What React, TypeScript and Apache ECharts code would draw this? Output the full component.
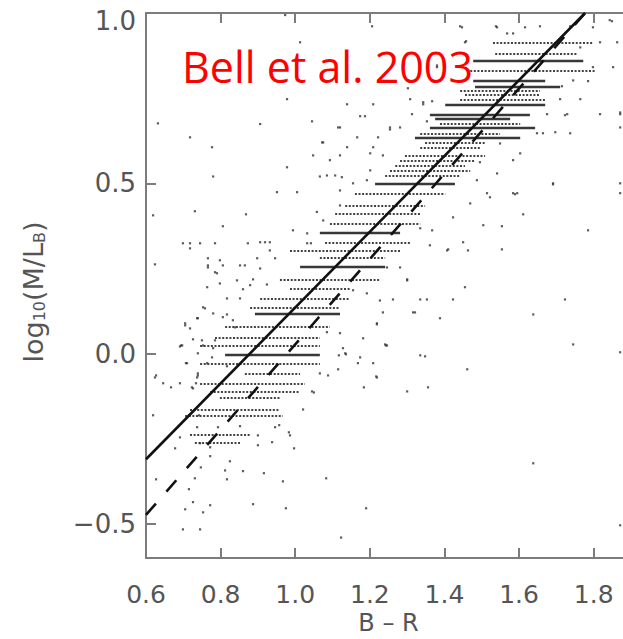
import React, { useEffect, useRef } from "react";
import * as echarts from "echarts";

// Axis tick positions
const xTicks = [0.6, 0.8, 1.0, 1.2, 1.4, 1.6, 1.8];
const yTicks = [-0.5, 0.0, 0.5, 1.0];

// Colour–M/L relations, evaluated at the two ends of the drawn range
const fitColour = [0.6, 1.777];
const solidFitML = [-0.31, 1.0];
const dashedFitML = [-1.224 + 1.251 * 0.6, 1.0];

// Model-grid rows: [log10(M/L_B), B-R start, B-R end]
const denseRows: number[][] = [
  [0.859, 1.477, 1.772],
  [0.801, 1.477, 1.67],
  [0.783, 1.482, 1.71],
  [0.73, 1.402, 1.67],
  [0.7, 1.361, 1.629],
  [0.689, 1.375, 1.576],
  [0.663, 1.361, 1.643],
  [0.633, 1.321, 1.603],
  [0.498, 1.214, 1.428],
  [0.354, 1.066, 1.281],
  [0.255, 1.013, 1.241],
  [0.117, 0.892, 1.12],
  [-0.004, 0.812, 1.066],
];

const looseRows: number[][] = [
  [0.912, 1.53, 1.798],
  [0.88, 1.536, 1.758],
  [0.83, 1.469, 1.804],
  [0.771, 1.442, 1.656],
  [0.759, 1.455, 1.656],
  [0.745, 1.442, 1.67],
  [0.674, 1.388, 1.603],
  [0.645, 1.335, 1.549],
  [0.618, 1.348, 1.509],
  [0.604, 1.335, 1.495],
  [0.58, 1.294, 1.509],
  [0.566, 1.281, 1.482],
  [0.551, 1.268, 1.455],
  [0.536, 1.254, 1.469],
  [0.521, 1.241, 1.442],
  [0.469, 1.16, 1.402],
  [0.434, 1.134, 1.348],
  [0.41, 1.107, 1.335],
  [0.381, 1.093, 1.335],
  [0.325, 1.08, 1.308],
  [0.301, 0.986, 1.281],
  [0.281, 1.066, 1.241],
  [0.216, 0.959, 1.227],
  [0.19, 0.986, 1.147],
  [0.161, 0.906, 1.147],
  [0.134, 0.879, 1.12],
  [0.078, 0.812, 1.093],
  [0.046, 0.785, 1.066],
  [0.023, 0.745, 1.066],
  [-0.03, 0.745, 1.066],
  [-0.06, 0.865, 1.013],
  [-0.089, 0.745, 1.026],
  [-0.112, 0.772, 1.013],
  [-0.13, 0.798, 0.959],
  [-0.165, 0.718, 0.959],
  [-0.183, 0.705, 0.967],
  [-0.239, 0.718, 0.879],
  [-0.262, 0.731, 0.852],
];

// Individual galaxies: [B-R, log10(M/L_B)]
const galaxies: number[][] = [
  [0.973, 0.994], [1.206, 0.961], [1.442, 0.961], [1.538, 0.961], [1.656, 0.961],
  [1.737, 0.961], [1.843, 0.979], [1.568, 0.94], [1.584, 0.94], [1.013, 0.914],
  [1.455, 0.914], [1.817, 0.914], [1.863, 0.914], [1.38, 0.846], [1.463, 0.832],
  [1.745, 0.802], [0.978, 0.747], [1.139, 0.732], [1.209, 0.732], [1.308, 0.747],
  [1.343, 0.732], [1.71, 0.747], [1.764, 0.747], [1.174, 0.697], [1.729, 0.703],
  [1.817, 0.703], [1.871, 0.703], [0.632, 0.676], [0.906, 0.674], [1.045, 0.682],
  [1.12, 0.664], [1.254, 0.664], [0.718, 0.635], [0.777, 0.606], [1.072, 0.62],
  [1.139, 0.606], [1.209, 0.606], [1.697, 0.65], [1.737, 0.647], [1.871, 0.664],
  [1.664, 0.647], [1.048, 0.582], [1.12, 0.582], [0.978, 0.547], [0.78, 0.52],
  [1.066, 0.52], [1.005, 0.474], [0.951, 0.474], [1.691, 0.5], [1.871, 0.5],
  [1.584, 0.471],
  [0.619, 0.406], [0.731, 0.418], [0.868, 0.409], [0.806, 0.374], [0.699, 0.324],
  [0.718, 0.324], [0.745, 0.324], [0.785, 0.324], [0.718, 0.309], [0.766, 0.28],
  [0.798, 0.274], [0.624, 0.262], [0.873, 0.324], [0.932, 0.303], [0.766, 0.253],
  [0.785, 0.239], [0.865, 0.259], [0.844, 0.215], [0.887, 0.218], [0.764, 0.195],
  [0.924, 0.203], [0.817, 0.162], [0.852, 0.162], [0.753, 0.136], [0.737, 0.104],
  [0.705, 0.083], [0.806, 0.107], [0.691, 0.021], [0.726, 0.042], [0.71, -0.028],
  [0.764, -0.028], [0.739, 0.001], [0.624, -0.07], [0.737, -0.07], [0.817, -0.037],
  [1.554, 0.374], [1.611, 0.409], [1.589, 0.468], [1.691, 0.497], [1.785, 0.362],
  [1.463, 0.303], [1.554, 0.306], [1.41, 0.306], [1.367, 0.362], [1.335, 0.368],
  [1.455, 0.195], [1.3, 0.218], [1.262, 0.159], [1.353, 0.159], [1.423, 0.159],
  [1.723, 0.159], [1.388, 0.104], [1.321, 0.121], [1.638, 0.115], [1.219, 0.086],
  [1.241, 0.027], [1.348, -0.008], [1.745, 0.027], [1.461, -0.046], [1.174, -0.011],
  [1.134, 0.001], [1.115, -0.046], [1.219, -0.07], [1.871, 0.004], [1.871, 0.471],
  [0.627, -0.064], [0.646, -0.087], [0.691, -0.087], [0.723, -0.099], [0.739, -0.064],
  [0.619, -0.181], [0.691, -0.246], [0.678, -0.278], [0.745, -0.263], [0.737, -0.216],
  [0.772, -0.275], [0.772, -0.301], [0.747, -0.334], [0.825, -0.316], [0.812, -0.343],
  [0.86, -0.345], [0.916, -0.351], [0.731, -0.366], [0.817, -0.369], [0.627, -0.369],
  [0.715, -0.398], [0.726, -0.436], [0.772, -0.445], [0.705, -0.457], [0.753, -0.466],
  [0.887, -0.442], [0.975, -0.454], [0.699, -0.516], [0.745, -0.516], [1.123, -0.54],
  [1.638, -0.322], [1.19, -0.454], [1.083, -0.366], [0.967, -0.375], [0.9, -0.269],
  [0.938, -0.26], [0.997, -0.278], [0.986, -0.24], [0.946, -0.216], [0.9, -0.24],
  [0.852, -0.213], [0.793, -0.216], [1.021, -0.164], [1.045, -0.111], [1.066, -0.058],
  [1.184, -0.099], [1.217, -0.067], [1.3, -0.111], [1.356, -0.099], [1.871, -0.504],
  [1.447, 0.958], [1.541, 0.958], [1.616, 0.958], [1.798, 0.958], [1.849, 0.976],
  [1.458, 0.917], [1.764, 0.899], [1.798, 0.841], [1.852, 0.841], [1.785, 0.8],
  [1.871, 0.708], [1.715, 0.785], [1.38, 0.841], [1.302, 0.802], [1.302, 0.779],
  [1.343, 0.738], [1.367, 0.741], [1.313, 0.703], [1.353, 0.682], [1.675, 0.703],
  [1.187, 0.697], [1.115, 0.664], [1.075, 0.62], [1.166, 0.635], [1.222, 0.635],
  [1.281, 0.664], [1.254, 0.658], [1.201, 0.588], [1.235, 0.582], [1.093, 0.568],
  [1.107, 0.523], [1.085, 0.523], [1.125, 0.518], [1.155, 0.5], [1.12, 0.479],
  [1.192, 0.509], [1.201, 0.538], [1.723, 0.7], [1.648, 0.647], [1.603, 0.588],
  [1.584, 0.568], [1.541, 0.529], [1.487, 0.509], [1.514, 0.471], [1.595, 0.471],
  [1.495, 0.562], [1.549, 0.617],
  [1.032, 0.353], [1.075, 0.391], [1.12, 0.435], [1.058, 0.416], [0.994, 0.362],
  [0.906, 0.327], [0.919, 0.327], [0.932, 0.327], [1.032, 0.324], [1.042, 0.324],
  [0.898, 0.28], [0.946, 0.28], [0.906, 0.25], [1.469, 0.441], [1.522, 0.459],
  [1.423, 0.4], [1.504, 0.377], [1.45, 0.327], [1.407, 0.303], [1.361, 0.318],
  [0.766, 0.259], [0.806, 0.259], [0.852, 0.259], [0.79, 0.236], [0.798, 0.206],
  [0.879, 0.201], [0.758, 0.133], [0.78, 0.118], [0.817, 0.115], [0.86, 0.189],
  [0.705, 0.089], [0.739, 0.104], [0.718, 0.074], [0.833, 0.098], [0.839, 0.077],
  [0.75, 0.039], [0.785, 0.039], [0.78, 0.016], [0.777, -0.011], [0.697, 0.024],
  [1.246, 0.253], [1.281, 0.253], [1.3, 0.215], [1.192, 0.177], [1.155, 0.186],
  [1.227, 0.156], [1.335, 0.159], [1.235, 0.121], [1.316, 0.121], [1.219, 0.089],
  [1.085, 0.063], [1.12, 0.06], [1.182, 0.045], [1.246, 0.024], [1.335, -0.005],
  [1.128, 0.016],
  [0.694, 0.024], [0.753, 0.024], [0.667, -0.099], [0.707, -0.028], [0.739, -0.058],
  [0.734, -0.087], [0.726, -0.102], [0.715, -0.181], [0.742, -0.181], [1.05, -0.114],
  [1.088, -0.064], [1.117, -0.005], [1.136, -0.002], [1.243, 0.024], [1.168, -0.028],
  [1.209, -0.028], [0.983, -0.231], [0.957, -0.21],
];

const AXIS_GREY = "#7c7c7c";
const TEXT_GREY = "#555555";
const FONT = "DejaVu Sans";

function rowsToSegments(rows: number[][]) {
  return rows.map(([ml, c0, c1]) => ({ coords: [[c0, ml], [c1, ml]] }));
}

const fmt = (v: number) => v.toFixed(1).replace("-", "\u2212");

export default function App() {
  const ref = useRef<HTMLDivElement>(null);

  useEffect(() => {
    if (!ref.current) return;
    const chart = echarts.init(ref.current, undefined, { renderer: "svg" });

    const axisLine = { show: true, onZero: false, lineStyle: { color: AXIS_GREY, width: 2 } };
    const axisTick = {
      show: true,
      inside: true,
      length: 10,
      lineStyle: { color: AXIS_GREY, width: 2 },
    };
    const labelText = { fontSize: 26, color: TEXT_GREY, fontFamily: FONT };

    chart.setOption({
      animation: false,
      backgroundColor: "#ffffff",
      grid: {
        left: 146,
        top: 13,
        width: 485,
        height: 545,
        containLabel: false,
        outerBoundsMode: "none",
      },
      xAxis: [
        {
          type: "value",
          min: 0.6,
          max: 1.9,
          position: "bottom",
          axisLine,
          axisTick: { ...axisTick, customValues: xTicks },
          splitLine: { show: false },
          axisLabel: {
            customValues: xTicks,
            formatter: fmt,
            margin: 24,
            ...labelText,
            fontSize: 25,
            lineHeight: 25,
          },
          name: "B \u2013 R",
          nameLocation: "middle",
          nameGap: 53,
          nameMoveOverlap: false,
          nameTextStyle: { ...labelText, fontSize: 24, lineHeight: 24 },
        },
        {
          type: "value",
          min: 0.6,
          max: 1.9,
          position: "top",
          axisLine,
          axisTick: { ...axisTick, customValues: xTicks },
          splitLine: { show: false },
          axisLabel: { show: false },
        },
      ],
      yAxis: {
        type: "value",
        min: -0.6,
        max: 1.0,
        axisLine,
        axisTick: { ...axisTick, customValues: yTicks },
        splitLine: { show: false },
        axisLabel: {
          customValues: yTicks,
          formatter: (v: number) => (v >= 1 ? "{top|" + fmt(v) + "}" : fmt(v)),
          margin: 10,
          ...labelText,
          rich: { top: { ...labelText, padding: [16, 0, 0, 0] } },
        },
      },
      series: [
        {
          type: "lines",
          coordinateSystem: "cartesian2d",
          clip: true,
          silent: true,
          data: rowsToSegments(looseRows),
          lineStyle: { color: "#2e2e2e", width: 1.8, type: [2, 1.6], opacity: 0.9 },
        },
        {
          type: "lines",
          coordinateSystem: "cartesian2d",
          clip: true,
          silent: true,
          data: rowsToSegments(denseRows),
          lineStyle: { color: "#222", width: 2.4, opacity: 0.9 },
        },
        {
          type: "scatter",
          data: galaxies,
          symbol: "rect",
          symbolSize: 2.2,
          itemStyle: { color: "#333" },
          silent: true,
        },
        {
          type: "line",
          data: fitColour.map((c, i) => [c, solidFitML[i]]),
          showSymbol: false,
          symbol: "none",
          lineStyle: { color: "#111", width: 2.6 },
          silent: true,
          z: 5,
        },
        {
          type: "line",
          data: fitColour.map((c, i) => [c, dashedFitML[i]]),
          showSymbol: false,
          symbol: "none",
          lineStyle: { color: "#111", width: 2.6, type: [15, 16] },
          silent: true,
          z: 5,
        },
      ],
      graphic: [
        {
          type: "text",
          x: 31,
          y: 292,
          rotation: Math.PI / 2,
          z: 50,
          style: {
            text: "{m|log}{s|10}{m|(M/L}{s|B}{m|)}",
            align: "center",
            verticalAlign: "middle",
            rich: {
              m: { fontSize: 27, fill: TEXT_GREY, fontFamily: FONT, lineHeight: 32, verticalAlign: "bottom" },
              s: { fontSize: 16, fill: TEXT_GREY, fontFamily: FONT, lineHeight: 18, verticalAlign: "bottom" },
            },
          },
        },
        {
          type: "text",
          left: 182,
          top: 45,
          z: 100,
          style: {
            text: "Bell et al. 2003",
            fill: "#ff0000",
            fontSize: 43,
            fontFamily: "Open Sans",
          },
        },
      ],
    });

    return () => chart.dispose();
  }, []);

  return (
    <div
      ref={ref}
      style={{ position: "absolute", left: 0, top: 0, width: 623, height: 639 }}
    />
  );
}
